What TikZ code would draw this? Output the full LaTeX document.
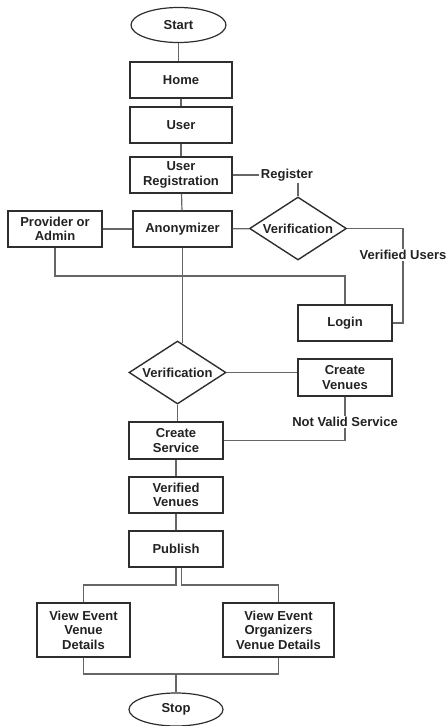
\documentclass[tikz,border=0pt]{standalone}
\usepackage{fontspec}
\setmainfont{Liberation Sans}
\usetikzlibrary{shapes.geometric,calc}
\definecolor{edgeclr}{HTML}{2E2E2E}
\definecolor{wireclr}{HTML}{666666}
\definecolor{inkclr}{HTML}{222222}
\begin{document}
\begin{tikzpicture}[x=1pt,y=-1pt,
  every node/.style={text=inkclr,font=\fontsize{13}{14.5}\selectfont\bfseries,align=center,inner sep=0pt},
  stepbox/.style={draw=edgeclr,line width=1.4pt,rectangle,minimum width=94pt,minimum height=36pt},
  terminal/.style={draw=edgeclr,line width=1.2pt,ellipse,minimum width=95pt,minimum height=35pt},
  decision/.style={draw=edgeclr,line width=1.4pt,diamond,minimum width=97pt,minimum height=63pt,aspect=1.54},
  tag/.style={fill=white,inner sep=1.5pt},
  wire/.style={draw=wireclr,line width=1.2pt}]
\useasboundingbox (0,0) rectangle (446,726);

% flowchart steps
\node[terminal] (start) at (178.5,25) {Start};
\node[stepbox,minimum width=102pt] (home) at (181,80) {Home};
\node[stepbox,minimum width=102pt] (user) at (181,125) {User};
\node[stepbox,minimum width=102pt] (ureg) at (181,175) {User\\Registration};
\node[stepbox] (prov) at (55,229) {Provider or\\Admin};
\node[stepbox,minimum width=99pt] (anon) at (182.5,229) {Anonymizer};
\node[decision] (ver1) at (298,228.5) {Verification};
\node[tag] (reg) at (287,175) {Register};
\node[tag] (vu) at (403,255) {Verified Users};
\node[stepbox] (login) at (345,323) {Login};
\node[decision] (ver2) at (177.5,372.5) {Verification};
\node[stepbox,minimum height=37pt] (cven) at (345,377.5) {Create\\Venues};
\node[tag] (nvs) at (345,422) {Not Valid Service};
\node[stepbox,minimum height=37pt] (csrv) at (176,440.5) {Create\\Service};
\node[stepbox] (vven) at (176,495) {Verified\\Venues};
\node[stepbox] (pub) at (176,549) {Publish};
\node[stepbox,minimum width=93pt,minimum height=54pt] (vevd) at (83.5,630) {View Event\\Venue\\Details};
\node[stepbox,minimum width=111pt,minimum height=54pt] (veod) at (278.5,630) {View Event\\Organizers\\Venue Details};
\node[terminal,minimum width=94pt,minimum height=33pt] (stop) at (176,709.5) {Stop};

% connectors
\path[wire] (start.south) -- (start.south |- home.north);
\path[wire] (home) -- (user);
\path[wire] (user) -- (ureg);
\path[wire] (ureg.east) -- (reg.west);
\path[wire] (ver1.north |- reg.south) -- (ver1.north);
\path[wire] (ureg) -- (anon);
\path[wire] (prov) -- (anon);
\path[wire] (anon) -- (ver1);
\path[wire] (ver1.east) -| (vu.north);
\path[wire] (vu.south) |- (login.east);
\coordinate (bus) at (0,276);
\path[wire] (prov.south) -- (prov.south |- bus) -| (login.north);
\path[wire] (anon.south) -- ($(anon.south |- ver2.north)+(0,3)$);
\path[wire] (ver2.east) -- (ver2.east -| cven.west);
\path[wire] (cven.south) -- (nvs.north);
\path[wire] (nvs.south) |- (csrv.east);
\path[wire] (ver2.south) -- (ver2.south |- csrv.north);
\path[wire] (csrv) -- (vven);
\path[wire] (vven) -- (pub);
\coordinate (split) at (0,585);
\path[wire] (pub.south) -- (pub.south |- split) -| (vevd.north);
\path[wire] ($(pub.south)+(5.5,0)$) -- ($(pub.south |- split)+(5.5,0)$) -| (veod.north);
\coordinate (merge) at (0,674);
\path[wire] (vevd.south) -- (vevd.south |- merge) -| (veod.south);
\path[wire] (stop.north |- merge) -- (stop.north);
\end{tikzpicture}
\end{document}
